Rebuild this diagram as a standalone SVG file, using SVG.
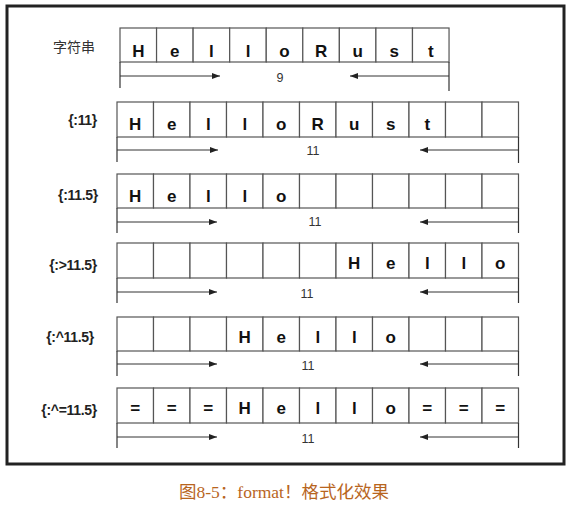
<svg xmlns="http://www.w3.org/2000/svg" width="572" height="505" viewBox="0 0 572 505">
<style>
.cell{fill:#fff;stroke:#555;stroke-width:1.2}
.ch{font-family:"Liberation Sans",Arial,sans-serif;font-weight:bold;font-size:17px;fill:#111;text-anchor:middle}
.lbl{font-family:"Liberation Sans",Arial,sans-serif;font-weight:bold;font-size:14px;fill:#222;text-anchor:end;letter-spacing:-0.3px}
.num{font-family:"Liberation Sans",Arial,sans-serif;font-size:12.5px;fill:#333;text-anchor:middle}
.ln{stroke:#333;stroke-width:1.2;fill:none}
.ar{stroke:#333;stroke-width:1;fill:none;marker-end:url(#ah)}
</style>
<defs>
<marker id="ah" viewBox="0 0 8 6" refX="8" refY="3" markerWidth="8" markerHeight="6" markerUnits="userSpaceOnUse" orient="auto">
<path d="M0,0 L8,3 L0,6 Z" fill="#222"/>
</marker>
</defs>
<rect x="0" y="0" width="572" height="505" fill="#fff"/>
<rect x="7" y="6" width="557" height="458" fill="#fff" stroke="#222" stroke-width="3"/>

<g id="row1">
<text x="95" y="52" font-family="'Noto Sans CJK SC',sans-serif" font-size="14" fill="#333" text-anchor="end">字符串</text>
<rect class="cell" x="120" y="28" width="36.56" height="34"/>
<rect class="cell" x="156.56" y="28" width="36.56" height="34"/>
<rect class="cell" x="193.12" y="28" width="36.56" height="34"/>
<rect class="cell" x="229.68" y="28" width="36.56" height="34"/>
<rect class="cell" x="266.24" y="28" width="36.56" height="34"/>
<rect class="cell" x="302.8" y="28" width="36.56" height="34"/>
<rect class="cell" x="339.36" y="28" width="36.56" height="34"/>
<rect class="cell" x="375.92" y="28" width="36.56" height="34"/>
<rect class="cell" x="412.48" y="28" width="36.56" height="34"/>
<text class="ch" x="138.3" y="57">H</text>
<text class="ch" x="174.8" y="57">e</text>
<text class="ch" x="211.4" y="57">l</text>
<text class="ch" x="248" y="57">l</text>
<text class="ch" x="284.5" y="57">o</text>
<text class="ch" x="321.1" y="57">R</text>
<text class="ch" x="357.6" y="57">u</text>
<text class="ch" x="394.2" y="57">s</text>
<text class="ch" x="430.8" y="57">t</text>
<text class="num" x="280" y="82">9</text>
</g>

<g id="row2">
<text class="lbl" x="97" y="125">{:11}</text>
<rect class="cell" x="117" y="102" width="36.5" height="35"/>
<rect class="cell" x="153.5" y="102" width="36.5" height="35"/>
<rect class="cell" x="190" y="102" width="36.5" height="35"/>
<rect class="cell" x="226.5" y="102" width="36.5" height="35"/>
<rect class="cell" x="263" y="102" width="36.5" height="35"/>
<rect class="cell" x="299.5" y="102" width="36.5" height="35"/>
<rect class="cell" x="336" y="102" width="36.5" height="35"/>
<rect class="cell" x="372.5" y="102" width="36.5" height="35"/>
<rect class="cell" x="409" y="102" width="36.5" height="35"/>
<rect class="cell" x="445.5" y="102" width="36.5" height="35"/>
<rect class="cell" x="482" y="102" width="36.5" height="35"/>
<text class="ch" x="135.25" y="130">H</text>
<text class="ch" x="171.75" y="130">e</text>
<text class="ch" x="208.25" y="130">l</text>
<text class="ch" x="244.75" y="130">l</text>
<text class="ch" x="281.25" y="130">o</text>
<text class="ch" x="317.75" y="130">R</text>
<text class="ch" x="354.25" y="130">u</text>
<text class="ch" x="390.75" y="130">s</text>
<text class="ch" x="427.25" y="130">t</text>
<text class="num" x="313" y="155">11</text>
</g>

<g id="row3">
<text class="lbl" x="98" y="200">{:11.5}</text>
<rect class="cell" x="117" y="174" width="36.5" height="34"/>
<rect class="cell" x="153.5" y="174" width="36.5" height="34"/>
<rect class="cell" x="190" y="174" width="36.5" height="34"/>
<rect class="cell" x="226.5" y="174" width="36.5" height="34"/>
<rect class="cell" x="263" y="174" width="36.5" height="34"/>
<rect class="cell" x="299.5" y="174" width="36.5" height="34"/>
<rect class="cell" x="336" y="174" width="36.5" height="34"/>
<rect class="cell" x="372.5" y="174" width="36.5" height="34"/>
<rect class="cell" x="409" y="174" width="36.5" height="34"/>
<rect class="cell" x="445.5" y="174" width="36.5" height="34"/>
<rect class="cell" x="482" y="174" width="36.5" height="34"/>
<text class="ch" x="135.25" y="202">H</text>
<text class="ch" x="171.75" y="202">e</text>
<text class="ch" x="208.25" y="202">l</text>
<text class="ch" x="244.75" y="202">l</text>
<text class="ch" x="281.25" y="202">o</text>
<text class="num" x="315" y="226">11</text>
</g>

<g id="row4">
<text class="lbl" x="97" y="270">{:&gt;11.5}</text>
<rect class="cell" x="117" y="243" width="36.5" height="35"/>
<rect class="cell" x="153.5" y="243" width="36.5" height="35"/>
<rect class="cell" x="190" y="243" width="36.5" height="35"/>
<rect class="cell" x="226.5" y="243" width="36.5" height="35"/>
<rect class="cell" x="263" y="243" width="36.5" height="35"/>
<rect class="cell" x="299.5" y="243" width="36.5" height="35"/>
<rect class="cell" x="336" y="243" width="36.5" height="35"/>
<rect class="cell" x="372.5" y="243" width="36.5" height="35"/>
<rect class="cell" x="409" y="243" width="36.5" height="35"/>
<rect class="cell" x="445.5" y="243" width="36.5" height="35"/>
<rect class="cell" x="482" y="243" width="36.5" height="35"/>
<text class="ch" x="354.25" y="269">H</text>
<text class="ch" x="390.75" y="269">e</text>
<text class="ch" x="427.25" y="269">l</text>
<text class="ch" x="463.75" y="269">l</text>
<text class="ch" x="500.25" y="269">o</text>
<text class="num" x="307" y="298">11</text>
</g>

<g id="row5">
<text class="lbl" x="94" y="342">{:^11.5}</text>
<rect class="cell" x="117" y="317" width="36.5" height="34"/>
<rect class="cell" x="153.5" y="317" width="36.5" height="34"/>
<rect class="cell" x="190" y="317" width="36.5" height="34"/>
<rect class="cell" x="226.5" y="317" width="36.5" height="34"/>
<rect class="cell" x="263" y="317" width="36.5" height="34"/>
<rect class="cell" x="299.5" y="317" width="36.5" height="34"/>
<rect class="cell" x="336" y="317" width="36.5" height="34"/>
<rect class="cell" x="372.5" y="317" width="36.5" height="34"/>
<rect class="cell" x="409" y="317" width="36.5" height="34"/>
<rect class="cell" x="445.5" y="317" width="36.5" height="34"/>
<rect class="cell" x="482" y="317" width="36.5" height="34"/>
<text class="ch" x="244.75" y="343">H</text>
<text class="ch" x="281.25" y="343">e</text>
<text class="ch" x="317.75" y="343">l</text>
<text class="ch" x="354.25" y="343">l</text>
<text class="ch" x="390.75" y="343">o</text>
<text class="num" x="308" y="370">11</text>
</g>

<g id="row6">
<text class="lbl" x="97" y="415">{:^=11.5}</text>
<rect class="cell" x="117" y="388" width="36.5" height="35"/>
<rect class="cell" x="153.5" y="388" width="36.5" height="35"/>
<rect class="cell" x="190" y="388" width="36.5" height="35"/>
<rect class="cell" x="226.5" y="388" width="36.5" height="35"/>
<rect class="cell" x="263" y="388" width="36.5" height="35"/>
<rect class="cell" x="299.5" y="388" width="36.5" height="35"/>
<rect class="cell" x="336" y="388" width="36.5" height="35"/>
<rect class="cell" x="372.5" y="388" width="36.5" height="35"/>
<rect class="cell" x="409" y="388" width="36.5" height="35"/>
<rect class="cell" x="445.5" y="388" width="36.5" height="35"/>
<rect class="cell" x="482" y="388" width="36.5" height="35"/>
<text class="ch" x="135.25" y="414">=</text>
<text class="ch" x="171.75" y="414">=</text>
<text class="ch" x="208.25" y="414">=</text>
<text class="ch" x="244.75" y="414">H</text>
<text class="ch" x="281.25" y="414">e</text>
<text class="ch" x="317.75" y="414">l</text>
<text class="ch" x="354.25" y="414">l</text>
<text class="ch" x="390.75" y="414">o</text>
<text class="ch" x="427.25" y="414">=</text>
<text class="ch" x="463.75" y="414">=</text>
<text class="ch" x="500.25" y="414">=</text>
<text class="num" x="308" y="443">11</text>
</g>

<g id="connectors">
<line class="ln" x1="120" y1="62" x2="120" y2="88"/>
<line class="ln" x1="449" y1="62" x2="449" y2="91"/>
<line class="ar" x1="120" y1="76" x2="220" y2="76"/>
<line class="ar" x1="449" y1="76" x2="350" y2="76"/>

<line class="ln" x1="117" y1="137" x2="117" y2="162"/>
<line class="ln" x1="518.5" y1="137" x2="518.5" y2="163"/>
<line class="ar" x1="117" y1="150" x2="218" y2="150"/>
<line class="ar" x1="518.5" y1="150" x2="420" y2="150"/>

<line class="ln" x1="117" y1="208" x2="117" y2="233"/>
<line class="ln" x1="518.5" y1="208" x2="518.5" y2="233"/>
<line class="ar" x1="117" y1="222" x2="217" y2="222"/>
<line class="ar" x1="518.5" y1="222" x2="420" y2="222"/>

<line class="ln" x1="117" y1="278" x2="117" y2="303"/>
<line class="ln" x1="518.5" y1="278" x2="518.5" y2="303"/>
<line class="ar" x1="117" y1="292" x2="217" y2="292"/>
<line class="ar" x1="518.5" y1="292" x2="420" y2="292"/>

<line class="ln" x1="117" y1="351" x2="117" y2="376"/>
<line class="ln" x1="518.5" y1="351" x2="518.5" y2="376"/>
<line class="ar" x1="117" y1="364" x2="217" y2="364"/>
<line class="ar" x1="518.5" y1="364" x2="420" y2="364"/>

<line class="ln" x1="117" y1="423" x2="117" y2="448"/>
<line class="ln" x1="518.5" y1="423" x2="518.5" y2="448"/>
<line class="ar" x1="117" y1="437" x2="217" y2="437"/>
<line class="ar" x1="518.5" y1="437" x2="420" y2="437"/>
</g>

<text x="284" y="498" font-family="'Liberation Serif','Noto Sans CJK SC',serif" font-size="17.5" fill="#b8651e" text-anchor="middle">图8-5：format！格式化效果</text>
</svg>
